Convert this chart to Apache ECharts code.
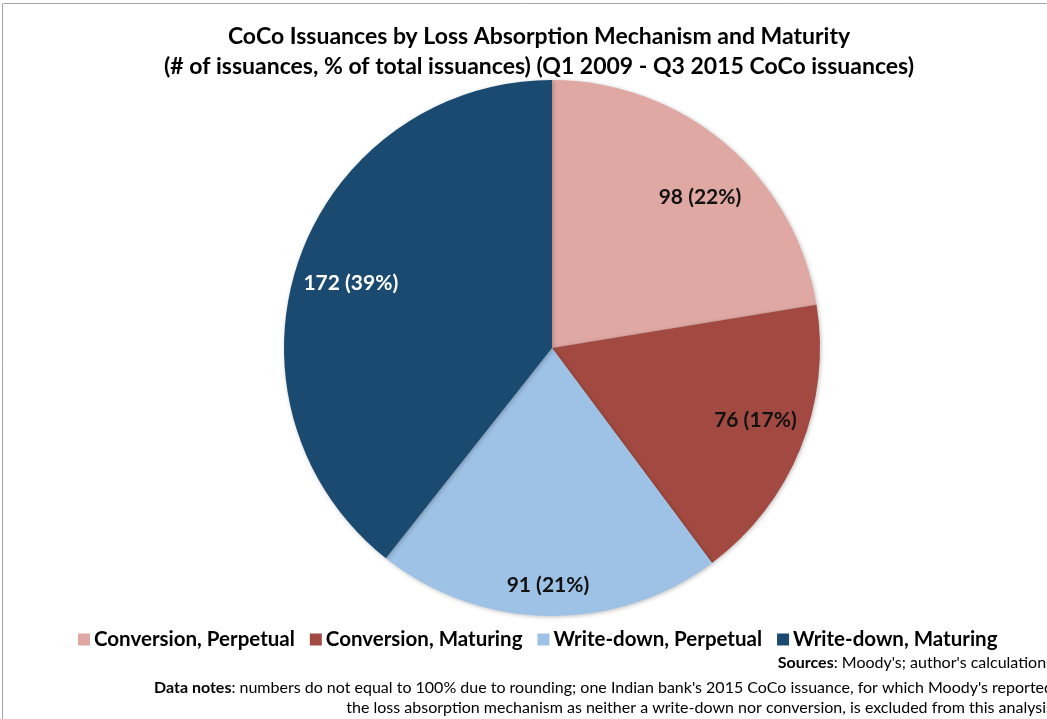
<!DOCTYPE html>
<html>
<head>
<meta charset="utf-8">
<style>
  html, body { margin: 0; padding: 0; background: #ffffff; }
  #chart { width: 1047px; height: 719px; }
</style>
<script src="https://cdn.jsdelivr.net/npm/echarts@6/dist/echarts.min.js"></script>
</head>
<body>
<div id="chart"></div>
<script>
// CoCo issuances, Q1 2009 - Q3 2015, by loss absorption mechanism and maturity
const categories = [
  'Conversion, Perpetual',
  'Conversion, Maturing',
  'Write-down, Perpetual',
  'Write-down, Maturing'
];
const issuances = [98, 76, 91, 172];
const sliceColors = ['#DFA8A3', '#A24A41', '#9EC2E6', '#1B4A70'];
const labelColors = ['#111111', '#111111', '#111111', '#ffffff'];
// small nudges so each label sits where it reads best inside its slice
const labelNudge = [[10, 12], [6, -8], [-1, 24], [0, 5]];

const titleLines = [
  'CoCo Issuances by Loss Absorption Mechanism and Maturity',
  '(# of issuances, % of total issuances) (Q1 2009 - Q3 2015 CoCo issuances)'
];

const sourcesText = '{b|Sources}: Moody\'s; author\'s calculations';
const notesText = '{b|Data notes}: numbers do not equal to 100% due to rounding; one Indian bank\'s 2015 CoCo issuance, for which Moody\'s reported\n' +
  'the loss absorption mechanism as neither a write-down nor conversion, is excluded from this analysis';

const FONT = 'Lato, "Open Sans", sans-serif';
const total = issuances.reduce((a, b) => a + b, 0);

const pieData = categories.map((name, i) => ({
  name: name,
  value: issuances[i],
  itemStyle: { color: sliceColors[i] }
}));

const labelData = categories.map((name, i) => ({
  name: name,
  value: issuances[i],
  itemStyle: { color: 'rgba(0,0,0,0)' },
  label: { color: labelColors[i] }
}));

const chart = echarts.init(document.getElementById('chart'), null, { renderer: 'canvas' });

chart.setOption({
  backgroundColor: '#ffffff',
  animation: false,
  title: {
    text: titleLines.join('\n'),
    left: 534,
    top: 17,
    textAlign: 'center',
    textStyle: {
      fontFamily: FONT,
      fontWeight: 'bold',
      fontSize: 23,
      lineHeight: 30,
      color: '#000000'
    }
  },
  legend: {
    data: categories,
    left: 73,
    top: 624,
    icon: 'rect',
    itemWidth: 12,
    itemHeight: 12,
    itemGap: 15,
    textStyle: {
      fontFamily: FONT,
      fontWeight: 'bold',
      fontSize: 20.5,
      color: '#000000',
      padding: [0, 0, 0, -1]
    }
  },
  series: [
    {
      type: 'pie',
      center: [552, 348],
      radius: [0, 268],
      startAngle: 90,
      clockwise: true,
      silent: true,
      label: { show: false },
      labelLine: { show: false },
      itemStyle: {
        borderWidth: 0,
        shadowBlur: 4,
        shadowOffsetX: 1,
        shadowOffsetY: 1,
        shadowColor: 'rgba(0,0,0,0.25)'
      },
      data: pieData
    },
    {
      // transparent ring that carries the value labels at mid-radius
      type: 'pie',
      center: [552, 348],
      radius: [152, 268],
      startAngle: 90,
      clockwise: true,
      silent: true,
      label: {
        show: true,
        position: 'inside',
        fontFamily: FONT,
        fontWeight: 'bold',
        fontSize: 21,
        formatter: p => p.value + ' (' + Math.round(p.value / total * 100) + '%)'
      },
      labelLayout: p => ({ dx: labelNudge[p.dataIndex][0], dy: labelNudge[p.dataIndex][1] }),
      labelLine: { show: false },
      data: labelData
    }
  ],
  graphic: [
    {
      type: 'rect',
      shape: { x: 2.5, y: 3.5, width: 1100, height: 800 },
      style: { fill: 'none', stroke: '#a6a6a6', lineWidth: 1 },
      silent: true
    },
    {
      type: 'text',
      right: -6,
      top: 655,
      style: {
        text: sourcesText,
        fontFamily: FONT,
        fontSize: 16,
        fill: '#000000',
        textAlign: 'right',
        rich: { b: { fontFamily: FONT, fontSize: 16, fontWeight: 'bold' } }
      }
    },
    {
      type: 'text',
      right: -6,
      top: 678,
      style: {
        text: notesText,
        fontFamily: FONT,
        fontSize: 16,
        lineHeight: 20,
        fill: '#000000',
        textAlign: 'right',
        rich: { b: { fontFamily: FONT, fontSize: 16, fontWeight: 'bold', lineHeight: 20 } }
      }
    }
  ]
});
</script>
</body>
</html>
